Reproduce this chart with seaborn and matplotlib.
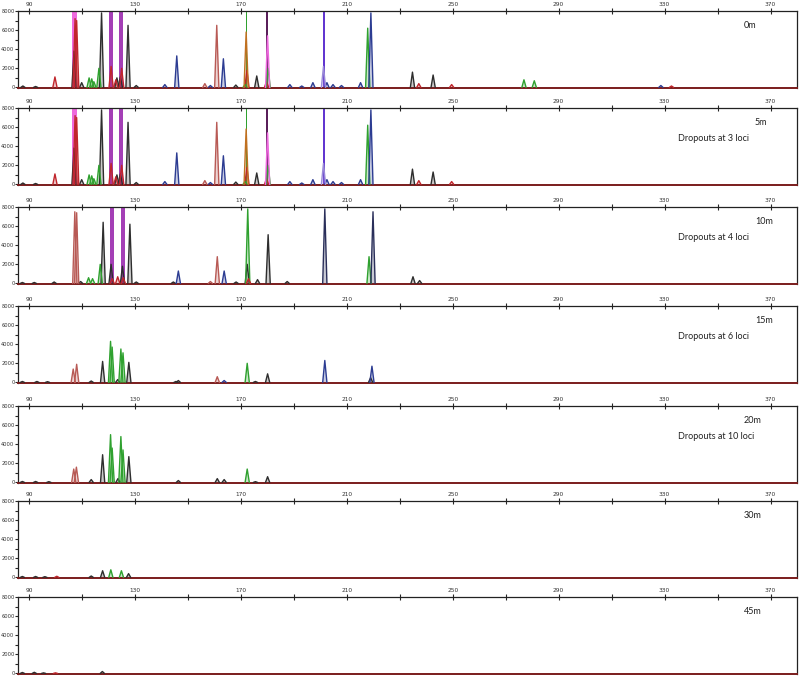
import pandas as pd
import matplotlib
matplotlib.use("Agg")
import matplotlib.pyplot as plt
import seaborn as sns

# axis ticks and panel labels
bp_major = [90, 130, 170, 210, 250, 290, 330, 370]
bp_minor = [110, 150, 190, 230, 270, 310, 350]
rfu_ticks = [0, 2000, 4000, 6000, 8000]
panel_names = ["0m", "5m", "10m", "15m", "20m", "30m", "45m"]
dropout_notes = ["", "Dropouts at 3 loci", "Dropouts at 4 loci",
                 "Dropouts at 6 loci", "Dropouts at 10 loci", "", ""]

# peaks: size (bp), height (RFU), dye code
pos_0m = [87.7, 92.5, 99.8, 107.0, 107.4, 108.0, 109.9, 112.7, 113.7, 114.5, 116.4, 117.4,
          121.0, 122.8, 123.2, 124.5, 125.0, 127.4, 130.5, 141.3, 145.8, 156.4, 158.5,
          160.9, 163.4, 168.1, 171.6, 172.0, 172.3, 176.0, 179.7, 180.1, 180.3, 188.5,
          193.0, 197.2, 201.2, 202.5, 204.8, 208.0, 215.2, 217.9, 219.1, 234.8, 237.2,
          242.6, 249.6, 276.9, 280.8, 328.6, 332.6]
hgt_0m = [150, 100, 1100, 3800, 7200, 7000, 500, 1000, 900, 600, 2000, 7800,
          2200, 800, 1000, 1100, 2000, 6500, 200, 300, 3300, 400, 200,
          6500, 3000, 250, 300, 5800, 1800, 1200, 600, 5400, 2000, 300,
          150, 500, 2200, 500, 300, 200, 500, 6200, 7800, 1600, 400,
          1300, 300, 800, 700, 200, 150]
dye_0m = ["k", "k", "r", "k", "r", "r", "k", "g", "g", "g", "g", "k",
          "r", "r", "k", "k", "r", "k", "k", "b", "b", "n", "b",
          "n", "b", "k", "g", "o", "r", "k", "r", "p", "g", "b",
          "b", "b", "l", "b", "b", "b", "b", "g", "b", "k", "r",
          "k", "r", "g", "g", "b", "r"]

pos_5m = pos_0m[:-4]
hgt_5m = hgt_0m[:-4]
dye_5m = dye_0m[:-4]

pos_10m = [87.5, 92.0, 99.5, 107.3, 108.0, 109.5, 112.5, 114.0, 116.9, 118.0, 121.0,
           121.4, 123.5, 125.3, 125.6, 128.1, 130.5, 144.5, 146.4, 158.5, 161.1, 163.7,
           168.2, 172.4, 172.6, 172.9, 176.3, 180.3, 187.5, 201.7, 218.4, 219.9, 235.0,
           237.5]
hgt_10m = [100, 100, 150, 7500, 7400, 200, 600, 500, 2000, 6400, 2000,
           500, 700, 1800, 600, 6200, 150, 150, 1300, 200, 2800, 1300,
           150, 2000, 7800, 500, 400, 5100, 200, 7800, 2800, 7500, 700,
           300]
dye_10m = ["k", "k", "k", "n", "n", "k", "g", "g", "g", "k", "k",
           "r", "r", "k", "r", "k", "k", "k", "b", "n", "n", "b",
           "k", "k", "g", "r", "k", "k", "k", "e", "g", "e", "k",
           "k"]

pos_15m = [87.5, 93.0, 97.0, 106.7, 108.0, 113.5, 117.8, 120.8, 121.4, 123.5, 124.7,
           125.5, 127.7, 145.5, 146.4, 161.1, 163.7, 172.4, 175.5, 180.1, 201.7, 219.0,
           219.5]
hgt_15m = [100, 100, 80, 1400, 1900, 150, 2200, 4300, 3700, 300, 3500,
           3100, 2100, 100, 200, 600, 200, 2000, 100, 900, 2300, 500,
           1700]
dye_15m = ["k", "k", "k", "n", "n", "k", "k", "g", "g", "k", "g",
           "g", "k", "k", "k", "n", "b", "g", "k", "k", "b", "k",
           "b"]

pos_20m = [87.5, 92.5, 97.5, 106.9, 107.9, 113.5, 117.8, 120.8, 121.4, 123.6, 124.7,
           125.5, 127.7, 146.4, 161.1, 163.7, 172.4, 175.5, 180.1]
hgt_20m = [100, 100, 80, 1400, 1600, 300, 2900, 5000, 3600, 400, 4800,
           3400, 2700, 200, 400, 300, 1400, 80, 600]
dye_20m = ["k", "k", "k", "n", "n", "k", "k", "g", "g", "k", "g",
           "g", "k", "k", "k", "k", "g", "k", "k"]

pos_30m = [87.5, 92.5, 96.0, 100.5, 113.5, 117.8, 120.9, 124.9, 127.6]
hgt_30m = [100, 100, 80, 120, 150, 700, 800, 700, 400]
dye_30m = ["k", "k", "k", "r", "k", "k", "g", "g", "k"]

pos_45m = [87.5, 92.0, 95.5, 100.0, 117.7]
hgt_45m = [100, 120, 60, 60, 200]
dye_45m = ["k", "k", "k", "r", "k"]

# off-scale peaks drawn as solid columns
sat_pos_0m = [107.2, 120.8, 124.8, 172.2, 180.0, 201.4]
sat_dye_0m = ["p", "m", "m", "g", "d", "v"]
sat_pos_10m = [121.2, 125.4]
sat_dye_10m = ["m", "m"]

palette = {"k": "#2e2e2e", "b": "#2c3c92", "g": "#2fa12f", "r": "#c0262c",
           "n": "#b85a55", "o": "#c07020", "p": "#ee6ade", "m": "#a43fb6",
           "d": "#5a1f5a", "v": "#6236d0", "l": "#9a8ad8", "e": "#2a2f5a"}
bar_width = {"p": 1.9, "m": 1.5, "g": 0.6, "d": 0.7, "v": 1.0}

panels = [
    (pos_0m, hgt_0m, dye_0m, sat_pos_0m, sat_dye_0m),
    (pos_5m, hgt_5m, dye_5m, sat_pos_0m, sat_dye_0m),
    (pos_10m, hgt_10m, dye_10m, sat_pos_10m, sat_dye_10m),
    (pos_15m, hgt_15m, dye_15m, [], []),
    (pos_20m, hgt_20m, dye_20m, [], []),
    (pos_30m, hgt_30m, dye_30m, [], []),
    (pos_45m, hgt_45m, dye_45m, [], []),
]
panel_top = [11, 108, 207, 306, 406, 501, 597]
name_x = [0.932, 0.945, 0.946, 0.947, 0.932, 0.932, 0.932]


def peak_frame(pos, hgt, dye):
    rows = []
    for i, (p, h, d) in enumerate(zip(pos, hgt, dye)):
        for dx, f in ((-0.8, 0), (0, 1), (0.8, 0)):
            rows.append((i, p + dx, h * f, d))
    return pd.DataFrame(rows, columns=["peak", "bp", "rfu", "dye"])


sns.set_style("white")
plt.rcParams["font.family"] = ["DejaVu Sans"]

fig = plt.figure(figsize=(8, 6.77), dpi=100)
W, H = 800, 677

for k, (pos, hgt, dye, spos, sdye) in enumerate(panels):
    top = panel_top[k]
    ax = fig.add_axes([18 / W, 1 - (top + 77) / H, 779 / W, 77 / H])

    # off-scale columns
    for p, d in zip(spos, sdye):
        ax.bar(p, 9000, width=bar_width[d], color=palette[d], linewidth=0, zorder=1)

    df = peak_frame(pos, hgt, dye)
    for (_, d), g in df.groupby(["peak", "dye"]):
        ax.fill(g["bp"], g["rfu"], color=palette[d], alpha=0.25, linewidth=0, zorder=2)
    sns.lineplot(data=df, x="bp", y="rfu", hue="dye", palette=palette, units="peak",
                 estimator=None, sort=False, legend=False, linewidth=1.0, ax=ax, zorder=3)

    ax.set_xlim(85.85, 380.0)
    ax.set_ylim(-60, 8000)
    ax.set_xlabel("")
    ax.set_ylabel("")

    ax.xaxis.tick_top()
    ax.set_xticks(bp_major)
    ax.set_xticks(bp_minor, minor=True)
    ax.set_yticks(rfu_ticks)
    ax.set_yticks([1000, 3000, 5000, 7000], minor=True)
    ax.tick_params(axis="x", which="both", direction="inout", length=4, width=0.8,
                   labelsize=4.2, labelcolor="#333333", pad=1, top=True, bottom=False)
    ax.tick_params(axis="y", which="both", direction="out", length=2, width=0.8,
                   labelsize=3.7, labelcolor="#333333", pad=0.5, left=True)

    for side in ["top", "right", "left"]:
        ax.spines[side].set_color("#222222")
        ax.spines[side].set_linewidth(0.9)
    ax.spines["bottom"].set_color("#7a1c1c")
    ax.spines["bottom"].set_linewidth(1.4)

    ax.text(name_x[k], 0.81, panel_names[k], transform=ax.transAxes,
            fontsize=6.5, family=["Lato", "DejaVu Sans"], color="#222222", va="center")
    if dropout_notes[k]:
        ax.text(0.847, 0.60, dropout_notes[k], transform=ax.transAxes,
                fontsize=6.5, family=["Lato", "DejaVu Sans"], color="#222222", va="center")

fig.savefig("out.png", dpi=100)
